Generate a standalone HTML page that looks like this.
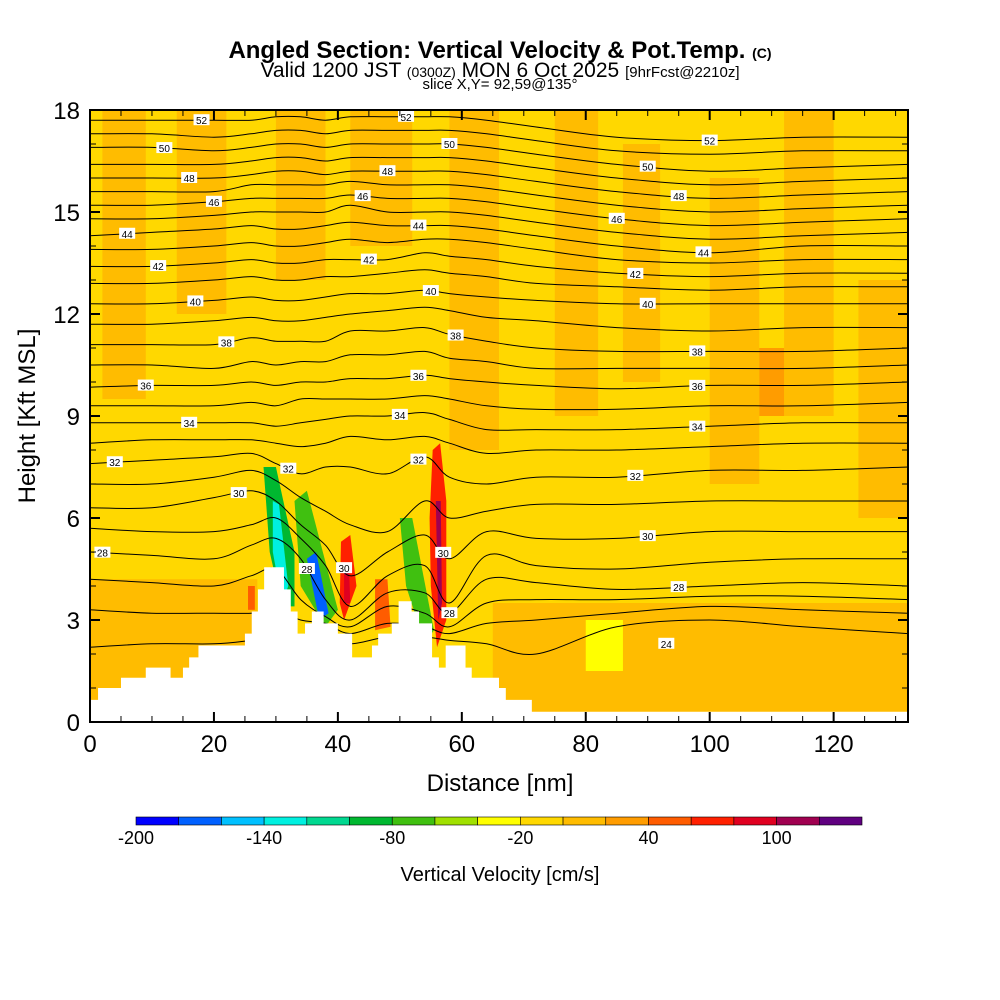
<!DOCTYPE html>
<html><head><meta charset="utf-8"><style>
html,body{margin:0;padding:0;background:#fff;}
svg{display:block;font-family:"Liberation Sans",sans-serif;}
</style></head><body>
<svg id="chart" width="1000" height="1000" viewBox="0 0 1000 1000">
<text x="500" y="58" text-anchor="middle" font-size="24" font-weight="bold">Angled Section: Vertical Velocity &amp; Pot.Temp. <tspan font-size="14">(C)</tspan></text>
<text x="500" y="77" text-anchor="middle" font-size="21">Valid 1200 JST <tspan font-size="14">(0300Z)</tspan> MON 6 Oct 2025 <tspan font-size="15">[9hrFcst@2210z]</tspan></text>
<text x="500" y="89" text-anchor="middle" font-size="15">slice X,Y= 92,59@135°</text>
<g id="plot"></g>
<text x="500" y="791" text-anchor="middle" font-size="24">Distance [nm]</text>
<text transform="translate(35,416) rotate(-90)" text-anchor="middle" font-size="24">Height [Kft MSL]</text>
<g id="cbar"></g>
<text x="500" y="881" text-anchor="middle" font-size="20">Vertical Velocity [cm/s]</text>
</svg>
<script>
// ---- data ----
const xTicks=[0,20,40,60,80,100,120];
const yTicks=[0,3,6,9,12,15,18];
const cbarColors=["#0000FF","#0060FF","#00C0FF","#00F0E0","#00D890","#00B830","#40C010","#A0E000","#FFFF00","#FFD800","#FFBC00","#FF9C00","#FF5C00","#FF2000","#E00020","#A00050","#600080"];
const cbarLabels=[-200,-140,-80,-20,40,100];
const bgValue=-10;
// rectangles: [x0,x1,z0,z1,value]
const patches=[[0,27,0,4.2,10],[2,9,9.5,18,10],[14,22,12,18,10],[30,38,13,18,10],[42,52,14,18,10],[58,66,8,18,10],[75,82,9,18,10],[86,92,10,17,10],[100,108,7,16,10],[112,120,9,18,10],[124,132,6,13,10],[65,132,0,3.5,10],[80,86,1.5,3,-30],[108,112,9,11,30]];
// polygons: [points, value]
const plumes=[
 [[[28,7.5],[30,7.5],[33,5],[33,3.4],[31,3.4],[29,5]],-90],
 [[[29.5,6.5],[30.5,6.4],[32,4],[31,3.5],[29.5,5]],-130],
 [[[33,6.5],[35,6.8],[40,3.3],[38,2.8],[34,4]],-80],
 [[[35,4.8],[36.5,5],[38.5,3.2],[37,3.0]],-170],
 [[[40.5,5.3],[42,5.5],[43,4],[41,3],[40.3,3.5]],70],
 [[[41,4.5],[41.8,4.5],[42,3.5],[41,3.5]],90],
 [[[25.5,4.0],[26.6,4.0],[26.6,3.3],[25.5,3.3]],50],
 [[[46,4.2],[48,4.2],[48.5,2.8],[46,2.7]],50],
 [[[50,6],[52,6],[55.5,2.7],[54,2.3],[51,4]],-70],
 [[[55.3,8],[56.5,8.2],[57.5,6.5],[57.5,3],[56,2.2],[55,4],[54.8,6]],70],
 [[[55.8,6.5],[56.6,6.5],[56.8,3.5],[56.2,3]],110]
];
// terrain steps: [startNm, heightKft]
const terrain=[[0,0.65],[1.3,1.0],[5,1.3],[9,1.6],[13,1.3],[15,1.6],[16,1.9],[17.5,2.25],[25,2.6],[26.1,3.25],[27.1,3.9],[28.1,4.55],[31.3,3.9],[32.4,3.25],[33.5,2.6],[34.7,2.9],[35.8,3.25],[37.7,2.9],[40,2.6],[42.3,1.9],[45.5,2.25],[46.5,2.6],[48.7,2.9],[49.8,3.55],[51.9,3.25],[53.1,2.9],[55.2,1.9],[56.3,1.6],[57.4,2.25],[60.6,1.6],[61.6,1.3],[66,1.0],[67.1,0.65],[71.3,0.3]];
const thetaX=[0,10,20,26,30,34,38,42,48,54,58,64,72,85,100,115,132];
const thetaLevels=[25,26,27,28,29,30,31,32,33,34,35,36,37,38,39,40,41,42,43,44,45,46,47,48,49,50,51,52];
const thetaZ=[
[2.2,2.3,2.3,2.4,2.5,2.5,2.5,2.3,2.5,2.5,2.4,2.3,2.0,2.8,3.0,2.8,2.6],
[3.3,3.2,3.2,3.2,3.3,3.0,2.9,2.6,2.9,2.8,2.6,2.9,3.0,3.2,3.4,3.3,3.2],
[4.2,4.1,4.0,4.3,4.5,3.6,3.1,2.8,3.4,3.2,2.8,3.5,3.6,3.6,3.7,3.7,3.6],
[5.0,4.9,4.8,5.2,5.4,4.8,3.6,3.0,3.8,3.8,3.2,4.2,4.1,3.9,4.0,4.1,4.0],
[5.7,5.6,5.6,5.8,6.0,5.4,4.6,3.4,4.3,4.6,3.5,4.9,4.6,4.5,4.7,4.8,4.8],
[6.3,6.3,6.6,6.8,6.5,5.8,5.2,4.3,5.0,5.5,4.8,5.6,5.4,5.4,5.6,5.6,5.6],
[7.0,7.0,7.2,7.4,7.1,6.6,6.2,5.8,5.6,6.5,6.0,6.2,6.4,6.4,6.5,6.5,6.5],
[7.6,7.7,7.8,7.9,7.6,7.3,7.5,7.5,7.3,7.8,7.2,7.0,7.2,7.2,7.4,7.4,7.5],
[8.2,8.3,8.3,8.3,8.2,8.1,8.2,8.4,8.3,8.4,8.2,7.9,8.0,8.0,8.1,8.2,8.2],
[8.8,8.8,8.8,8.8,8.7,8.8,8.9,9.0,9.0,9.1,8.9,8.6,8.6,8.6,8.7,8.8,8.8],
[9.3,9.3,9.3,9.4,9.3,9.5,9.5,9.5,9.5,9.6,9.5,9.3,9.2,9.2,9.3,9.3,9.4],
[9.85,9.9,9.9,10.0,9.9,10.0,10.0,10.1,10.1,10.2,10.1,10.0,9.9,9.8,9.9,9.9,10.0],
[10.5,10.5,10.4,10.6,10.5,10.6,10.6,10.8,10.8,10.9,10.7,10.6,10.4,10.4,10.4,10.4,10.5],
[11.1,11.1,11.1,11.3,11.2,11.2,11.2,11.5,11.5,11.6,11.4,11.2,11.0,10.9,10.9,10.9,11.0],
[11.7,11.7,11.8,11.9,11.8,11.8,11.9,12.0,12.1,12.2,12.1,11.9,11.8,11.6,11.5,11.6,11.6],
[12.3,12.3,12.4,12.5,12.4,12.4,12.5,12.6,12.6,12.7,12.6,12.5,12.4,12.3,12.3,12.3,12.3],
[12.9,12.9,13.0,13.1,13.0,13.0,13.1,13.1,13.2,13.3,13.2,13.1,12.9,12.8,12.7,12.8,12.8],
[13.4,13.4,13.5,13.6,13.5,13.5,13.6,13.6,13.6,13.8,13.7,13.6,13.4,13.2,13.1,13.2,13.2],
[13.9,13.9,14.0,14.1,14.0,14.0,14.1,14.2,14.1,14.2,14.2,14.1,13.9,13.6,13.5,13.6,13.6],
[14.3,14.4,14.5,14.6,14.5,14.5,14.6,14.7,14.6,14.6,14.6,14.5,14.3,14.0,13.8,14.0,14.0],
[14.8,14.8,14.9,15.0,15.0,15.0,15.0,15.2,15.0,15.0,15.0,14.9,14.7,14.4,14.2,14.3,14.4],
[15.2,15.2,15.3,15.4,15.4,15.4,15.4,15.5,15.4,15.4,15.4,15.3,15.1,14.8,14.6,14.7,14.8],
[15.6,15.6,15.6,15.8,15.8,15.8,15.8,15.9,15.8,15.8,15.8,15.7,15.5,15.2,15.0,15.1,15.2],
[16.0,16.0,16.0,16.1,16.2,16.2,16.1,16.2,16.2,16.2,16.2,16.1,15.9,15.6,15.4,15.5,15.6],
[16.4,16.4,16.4,16.5,16.6,16.6,16.5,16.6,16.6,16.6,16.6,16.5,16.3,16.0,15.8,15.9,16.0],
[16.9,16.9,16.8,16.9,17.0,17.0,16.9,17.0,17.0,17.0,17.0,16.9,16.7,16.4,16.2,16.3,16.4],
[17.3,17.3,17.2,17.3,17.4,17.4,17.3,17.4,17.4,17.4,17.4,17.3,17.1,16.8,16.7,16.8,16.8],
[17.7,17.7,17.7,17.7,17.8,17.8,17.7,17.8,17.8,17.8,17.8,17.7,17.5,17.2,17.1,17.2,17.2]
];
// contour labels: [level, xNm]
const contourLabels=[[28,2],[32,4],[36,9],[34,16],[30,24],[32,32],[28,35],[30,41],[30,57],[32,53],[28,58],[34,50],[36,53],[38,59],[40,55],[42,45],[44,53],[46,44],[48,48],[50,58],[52,51],[44,6],[42,11],[40,17],[38,22],[48,16],[46,20],[50,12],[52,18],[28,95],[24,93],[30,90],[32,88],[34,98],[36,98],[38,98],[40,90],[42,88],[44,99],[46,85],[48,95],[50,90],[52,100]];

// ---- scales ----
const X0=90,X1=908,Y0=722,Y1=110;
const sx=v=>X0+(v/132)*(X1-X0);
const sy=v=>Y0-(v/18)*(Y0-Y1);
const NS="http://www.w3.org/2000/svg";
function mk(tag,attrs,parent){const e=document.createElementNS(NS,tag);for(const k in attrs)e.setAttribute(k,attrs[k]);parent.appendChild(e);return e;}
const colorOf=v=>cbarColors[Math.max(0,Math.min(16,Math.floor((v+200)/20)))];

const plot=document.getElementById('plot');
const defs=mk('defs',{},plot);
const cp=mk('clipPath',{id:'pclip'},defs);
mk('rect',{x:X0,y:Y1,width:X1-X0,height:Y0-Y1},cp);
const field=mk('g',{'clip-path':'url(#pclip)'},plot);


const bg=mk('rect',{x:X0,y:Y1,width:X1-X0,height:Y0-Y1,fill:colorOf(bgValue)},field);


patches.forEach(p=>{
 const r=mk('rect',{x:sx(p[0]),y:sy(p[3]),width:sx(p[1])-sx(p[0]),height:sy(p[2])-sy(p[3]),fill:colorOf(p[4])},field);
 
 
});
plumes.forEach(p=>{
 const pg=mk('polygon',{points:p[0].map(q=>sx(q[0])+','+sy(q[1])).join(' '),fill:colorOf(p[1])},field);
 
 
});
// contours
function interp(row,x){for(let i=0;i<thetaX.length-1;i++){if(x<=thetaX[i+1]){const t=(x-thetaX[i])/(thetaX[i+1]-thetaX[i]);return row[i]+t*(row[i+1]-row[i]);}}return row[row.length-1];}
const cg=mk('g',{},field);


thetaLevels.forEach((lv,i)=>{
 const pts=thetaX.map((x,j)=>[sx(x),sy(thetaZ[i][j])]);
 let d='M'+pts[0][0]+','+pts[0][1];
 for(let k=0;k<pts.length-1;k++){
  const p0=pts[Math.max(0,k-1)],p1=pts[k],p2=pts[k+1],p3=pts[Math.min(pts.length-1,k+2)];
  const c1=[p1[0]+(p2[0]-p0[0])/6,p1[1]+(p2[1]-p0[1])/6],c2=[p2[0]-(p3[0]-p1[0])/6,p2[1]-(p3[1]-p1[1])/6];
  d+=' C'+c1[0]+','+c1[1]+' '+c2[0]+','+c2[1]+' '+p2[0]+','+p2[1];
 }
 const pa=mk('path',{d:d,fill:'none',stroke:'#000','stroke-width':1},cg);
 
 
});
// terrain
let td='M'+sx(0)+','+sy(0);
terrain.forEach((t,i)=>{const xe=i<terrain.length-1?terrain[i+1][0]:132;td+=' L'+sx(t[0])+','+sy(t[1])+' L'+sx(xe)+','+sy(t[1]);});
td+=' L'+sx(132)+','+sy(0)+' Z';
const ter=mk('path',{d:td,fill:'#fff'},field);


// labels
contourLabels.forEach(c=>{
 const i=thetaLevels.indexOf(c[0]);let z;
 if(i<0){z=2.3;}else z=interp(thetaZ[i],c[1]);
 const g=mk('g',{},field);
 
 
 mk('rect',{x:sx(c[1])-8,y:sy(z)-6,width:16,height:11,fill:'#fff'},g);
 const t=mk('text',{x:sx(c[1]),y:sy(z)+4,'text-anchor':'middle','font-size':10},g);
 t.textContent=c[0];
});
// frame & ticks
const fr=mk('rect',{x:X0,y:Y1,width:X1-X0,height:Y0-Y1,fill:'none',stroke:'#000','stroke-width':2},plot);


for(let v=0;v<=130;v+=5){const L=v%20===0?10:6;
 mk('line',{x1:sx(v),x2:sx(v),y1:Y0,y2:Y0-L,stroke:'#000','stroke-width':v%20===0?2:1},plot);
 mk('line',{x1:sx(v),x2:sx(v),y1:Y1,y2:Y1+L,stroke:'#000','stroke-width':v%20===0?2:1},plot);}
for(let v=0;v<=18;v++){const L=v%3===0?10:6;
 mk('line',{x1:X0,x2:X0+L,y1:sy(v),y2:sy(v),stroke:'#000','stroke-width':v%3===0?2:1},plot);
 mk('line',{x1:X1,x2:X1-L,y1:sy(v),y2:sy(v),stroke:'#000','stroke-width':v%3===0?2:1},plot);}
xTicks.forEach(v=>{const t=mk('text',{x:sx(v),y:752,'text-anchor':'middle','font-size':24},plot);t.textContent=v;
 
 });
yTicks.forEach(v=>{const t=mk('text',{x:80,y:sy(v)+9,'text-anchor':'end','font-size':24},plot);t.textContent=v;
 
 });
// colorbar
const cb=document.getElementById('cbar');


const CB0=136,CB1=862,cw=(CB1-CB0)/cbarColors.length;
cbarColors.forEach((c,i)=>{const r=mk('rect',{x:CB0+i*cw,y:817,width:cw,height:8,fill:c,stroke:'#000','stroke-width':0.6},cb);
 
 });
cbarLabels.forEach(v=>{const t=mk('text',{x:CB0+(v+200)/20*cw,y:844,'text-anchor':'middle','font-size':18},cb);t.textContent=v;
 
 });
</script>
</body></html>
